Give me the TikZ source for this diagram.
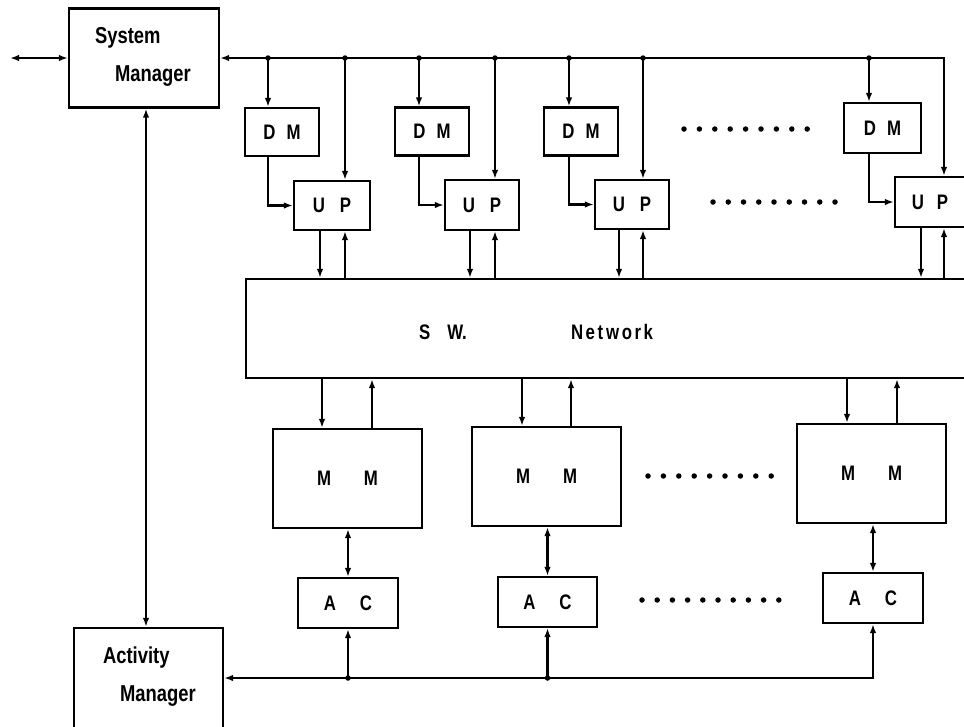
\documentclass[tikz,border=0pt]{standalone}
\usepackage{fontspec}
\newfontfamily\labfont[FakeStretch=0.8]{Liberation Sans}
\usetikzlibrary{arrows.meta,calc}
\begin{document}
\begin{tikzpicture}[x=1pt,y=-1pt,
  line width=2.2pt,
  boxn/.style={draw,rectangle,inner sep=0pt,font=\labfont\bfseries\fontsize{21}{25}\selectfont},
  lab/.style={inner sep=0pt,anchor=west,font=\labfont\bfseries\fontsize{23}{27}\selectfont},
  arr/.style={-{Latex[length=9pt,width=6.5pt]}},
  darr/.style={{Latex[length=9pt,width=6.5pt]}-{Latex[length=9pt,width=6.5pt]}},
  jdot/.style={fill=black,circle,inner sep=0pt,minimum size=5.5pt},
  rowdot/.style={fill=black,circle,inner sep=0pt,minimum size=5.5pt}]
\useasboundingbox[fill=white] (0,0) rectangle (964,726);
\clip (0,0) rectangle (964,726);

% managers
\node[boxn,minimum width=150,minimum height=99] (sm) at (144,58) {};
\node[lab] (smt1) at (94,38) {System};
\node[lab] (smt2) at (114,76) {Manager};
\node[boxn,minimum width=149,minimum height=140] (am) at (148.5,698) {};
\node[lab] (amt1) at (102,658) {Activity};
\node[lab] (amt2) at (119,696) {Manager};

% DM boxes
\node[boxn,minimum width=74,minimum height=48] (dm1) at (282,132) {D\hspace{11pt}M};
\node[boxn,minimum width=74,minimum height=48] (dm2) at (432,131.5) {D\hspace{11pt}M};
\node[boxn,minimum width=74,minimum height=48] (dm3) at (581,131.5) {D\hspace{11pt}M};
\node[boxn,minimum width=77,minimum height=50] (dm4) at (882.5,128) {D\hspace{11pt}M};

% UP boxes
\node[boxn,minimum width=76,minimum height=49] (up1) at (332,205.5) {U\hspace{15pt}P};
\node[boxn,minimum width=74,minimum height=50] (up2) at (482,205) {U\hspace{15pt}P};
\node[boxn,minimum width=74,minimum height=49] (up3) at (632,204.5) {U\hspace{15pt}P};
\node[boxn,minimum width=76,minimum height=50] (up4) at (933,202) {};
\node[inner sep=0pt,font=\labfont\bfseries\fontsize{21}{25}\selectfont] (up4t) at (930,202) {U\hspace{13pt}P};

% network
\node[boxn,minimum width=754,minimum height=99] (net) at (623,328.5) {};
\node[inner sep=0pt,anchor=west,font=\labfont\bfseries\fontsize{21}{25}\selectfont] (swt) at (418,332) {S\hspace{17pt}W.};
\node[inner sep=0pt,anchor=west,font=\labfont\bfseries\fontsize{21}{25}\selectfont\addfontfeature{LetterSpace=12}] (nwt) at (570,332) {Net\hspace{3pt}work};

% MM boxes
\node[boxn,minimum width=149,minimum height=99] (mm1) at (347.5,478.5) {M\hspace{33pt}M};
\node[boxn,minimum width=149,minimum height=99] (mm2) at (546.5,476.5) {M\hspace{33pt}M};
\node[boxn,minimum width=149,minimum height=99] (mm3) at (871.5,473.5) {M\hspace{33pt}M};

% AC boxes
\node[boxn,minimum width=100,minimum height=50] (ac1) at (348,603) {A\hspace{24pt}C};
\node[boxn,minimum width=99,minimum height=50] (ac2) at (547.5,602) {A\hspace{24pt}C};
\node[boxn,minimum width=100,minimum height=50] (ac3) at (873,598) {A\hspace{24pt}C};

% top bus
\coordinate (ext) at (10,58);
\coordinate (corner) at (944,58);
\draw[darr] (ext) -- (sm.west);
\draw[darr] (sm.east) -- (corner) -- (up4.north -| corner);
\foreach \n/\xa/\xb/\xd in {1/268/345/320, 2/419/495/470, 3/569/643/619} {
  \coordinate (ta\n) at (\xa,58);
  \coordinate (tb\n) at (\xb,58);
  \coordinate (td\n) at (\xd,58);
  \node[jdot] (dta\n) at (ta\n) {};
  \node[jdot] (dtb\n) at (tb\n) {};
  \draw[arr] (ta\n) -- (dm\n.north -| ta\n);
  \draw[arr] (dm\n.south -| ta\n) |- (up\n.west);
  \draw[arr] (tb\n) -- (up\n.north -| tb\n);
  \draw[arr] (up\n.south -| td\n) -- (net.north -| td\n);
  \draw[arr] (net.north -| tb\n) -- (up\n.south -| tb\n);
}
\coordinate (ta4) at (869,58);
\coordinate (td4) at (921,58);
\node[jdot] (dta4) at (ta4) {};
\draw[arr] (ta4) -- (dm4.north -| ta4);
\draw[arr] (dm4.south -| ta4) |- (up4.west);
\draw[arr] (up4.south -| td4) -- (net.north -| td4);
\draw[arr] (net.north -| corner) -- (up4.south -| corner);

% network to MM
\foreach \n/\xd/\xu in {1/322/372, 2/522/571, 3/847/897} {
  \coordinate (md\n) at (\xd,0);
  \coordinate (mu\n) at (\xu,0);
  \draw[arr] (net.south -| md\n) -- (mm\n.north -| md\n);
  \draw[arr] (mm\n.north -| mu\n) -- (net.south -| mu\n);
  \draw[darr] (mm\n.south -| ac\n.north) -- (ac\n.north);
}

% bottom bus
\coordinate (bc) at (873,678);
\draw[darr] (am.east |- bc) -- (bc) -- (ac3.south);
\node[jdot] (db1) at (ac1.south |- bc) {};
\node[jdot] (db2) at (ac2.south |- bc) {};
\draw[arr] (db1.center) -- (ac1.south);
\draw[arr] (db2.center) -- (ac2.south);

% SM - AM
\coordinate (vx) at (146,0);
\draw[darr] (sm.south -| vx) -- (am.north -| vx);

% dotted rows
\foreach \i in {0,...,8} {
  \node[rowdot] at (684+\i*15.4,129) {};
  \node[rowdot] at (713+\i*15.25,202) {};
  \node[rowdot] at (648+\i*15.4,476) {};
}
\foreach \i in {0,...,9} {
  \node[rowdot] at (642+\i*15.2,600) {};
}
\end{tikzpicture}
\end{document}
